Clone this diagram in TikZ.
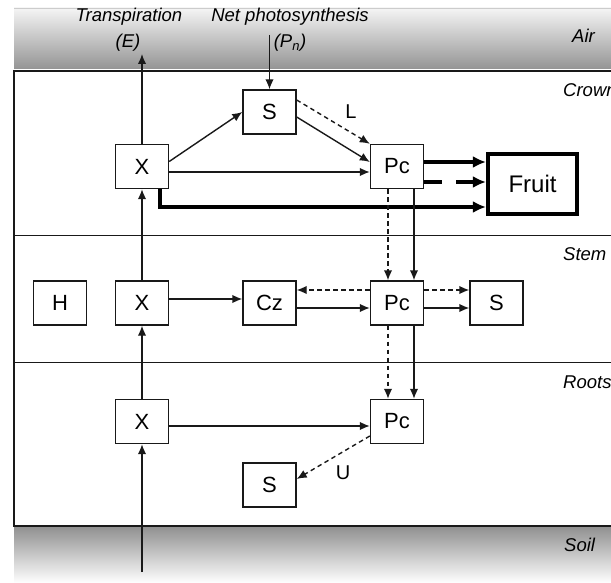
\documentclass[tikz,border=0pt]{standalone}
\usepackage{fontspec}
\setmainfont{Liberation Sans}
\usetikzlibrary{arrows.meta,calc,positioning}
\tikzset{
  boxn/.style={draw=black!90, line width=1.4pt, fill=white, minimum width=53pt, minimum height=44pt, inner sep=0pt, font=\fontsize{22}{22}\selectfont},
  fruitn/.style={draw=black, line width=4.2pt, fill=white, minimum width=89pt, minimum height=60pt, inner sep=0pt, font=\fontsize{24}{24}\selectfont},
  lbl/.style={font=\fontsize{18.5}{18.5}\selectfont\itshape, inner sep=0pt},
  zone/.style={font=\fontsize{18.5}{18.5}\selectfont\itshape, inner sep=0pt, anchor=west},
  arr/.style={draw=black!90, line width=1.4pt, -{Latex[length=10pt,width=8.5pt]}},
  darr/.style={arr, dash pattern=on 4.5pt off 3.5pt},
  tarr/.style={draw=black, line width=4.2pt, -{Latex[length=13pt,width=12pt]}},
  tdarr/.style={tarr, dash pattern=on 18pt off 14pt},
  sep/.style={draw=black!90, line width=1.4pt}
}
\begin{document}
\begin{tikzpicture}[x=1pt,y=-1pt]
\useasboundingbox (0,0) rectangle (611,583);
\clip (0,0) rectangle (611,583);
% bands
\shade[top color=white!96!black, bottom color=black!42] (14,8) rectangle (620,69);
\draw[black!20, line width=0.8pt] (14,8) -- (620,8);
\shade[top color=black!44, bottom color=white] (14,526) rectangle (620,583);
\draw[sep] (620,71) -- (14,71) -- (14,526) -- (620,526);
\draw[sep] (14,235.5) -- (620,235.5);
\draw[sep] (14,362.5) -- (620,362.5);
% zone labels
\node[zone] (air) at (572,36) {Air};
\node[zone] (crown) at (563,90) {Crown};
\node[zone] (stem) at (563,254) {Stem};
\node[zone] (roots) at (563,382) {Roots};
\node[zone] (soil) at (564,545) {Soil};
% top labels
\node[lbl] (tr) at (129,17) {Transpiration};
\node[lbl] (tre) at (128,43) {(E)};
\node[lbl] (np) at (290,17) {Net photosynthesis};
\node[lbl] (npp) at (290,43) {(P\textsubscript{n})};
% nodes
\node[boxn] (xc) at (142,166.5) {X};
\node[boxn] (sc) at (269.5,112) {S};
\node[boxn] (pcc) at (397,166.5) {Pc};
\node[fruitn] (fruit) at (532.5,184) {Fruit};
\node[boxn] (h) at (60,303) {H};
\node[boxn] (xs) at (142,303) {X};
\node[boxn] (cz) at (269.5,303) {Cz};
\node[boxn] (pcs) at (397,303) {Pc};
\node[boxn] (ss) at (496.5,303) {S};
\node[boxn] (xr) at (142,421.5) {X};
\node[boxn] (pcr) at (397,421.5) {Pc};
\node[boxn] (sr) at (269.5,485) {S};
\node[font=\fontsize{20}{20}\selectfont, inner sep=0pt] (lL) at (351,112) {L};
\node[font=\fontsize{20}{20}\selectfont, inner sep=0pt] (lU) at (343,473) {U};
% free ends
\coordinate (etop) at (142,54);
\coordinate (pntop) at (269.5,35);
\coordinate (soilin) at (142,572);
% connectors
\draw[arr] (xc.north) -- (etop);
\draw[arr] (pntop) -- (sc.north);
\draw[arr] ($(xc.east)+(0,-5)$) -- (sc.west);
\draw[arr] ($(sc.east)+(0,5)$) -- ($(pcc.west)+(0,-4.5)$);
\draw[darr] ($(sc.east)+(0,-12)$) -- (pcc.north west);
\draw[arr] ($(xc.east)+(0,5.5)$) -- ($(pcc.west)+(0,5.5)$);
\draw[tarr] ($(pcc.east)+(0,-4.5)$) -- ($(fruit.west)+(0,-22)$);
\draw[tdarr] ($(pcc.east)+(0,15.5)$) -- ($(fruit.west)+(0,-2)$);
\draw[tarr] ($(xc.south)+(18,0)$) |- ($(fruit.west)+(0,23)$);
\draw[darr] ($(pcc.south)+(-9,0)$) -- ($(pcs.north)+(-9,0)$);
\draw[arr] ($(pcc.south)+(17,0)$) -- ($(pcs.north)+(17,0)$);
\draw[arr] (xs.north) -- (xc.south);
\draw[arr] ($(xs.east)+(0,-4)$) -- ($(cz.west)+(0,-4)$);
\draw[darr] ($(pcs.west)+(0,-13)$) -- ($(cz.east)+(0,-13)$);
\draw[arr] ($(cz.east)+(0,5)$) -- ($(pcs.west)+(0,5)$);
\draw[darr] ($(pcs.east)+(0,-13)$) -- ($(ss.west)+(0,-13)$);
\draw[arr] ($(pcs.east)+(0,5)$) -- ($(ss.west)+(0,5)$);
\draw[darr] ($(pcs.south)+(-9,0)$) -- ($(pcr.north)+(-9,0)$);
\draw[arr] ($(pcs.south)+(17,0)$) -- ($(pcr.north)+(17,0)$);
\draw[arr] (xr.north) -- (xs.south);
\draw[arr] ($(xr.east)+(0,4.5)$) -- ($(pcr.west)+(0,4.5)$);
\draw[darr] ($(pcr.west)+(0,14.5)$) -- ($(sr.east)+(0,-6)$);
\draw[arr] (soilin) -- (xr.south);
\end{tikzpicture}
\end{document}
